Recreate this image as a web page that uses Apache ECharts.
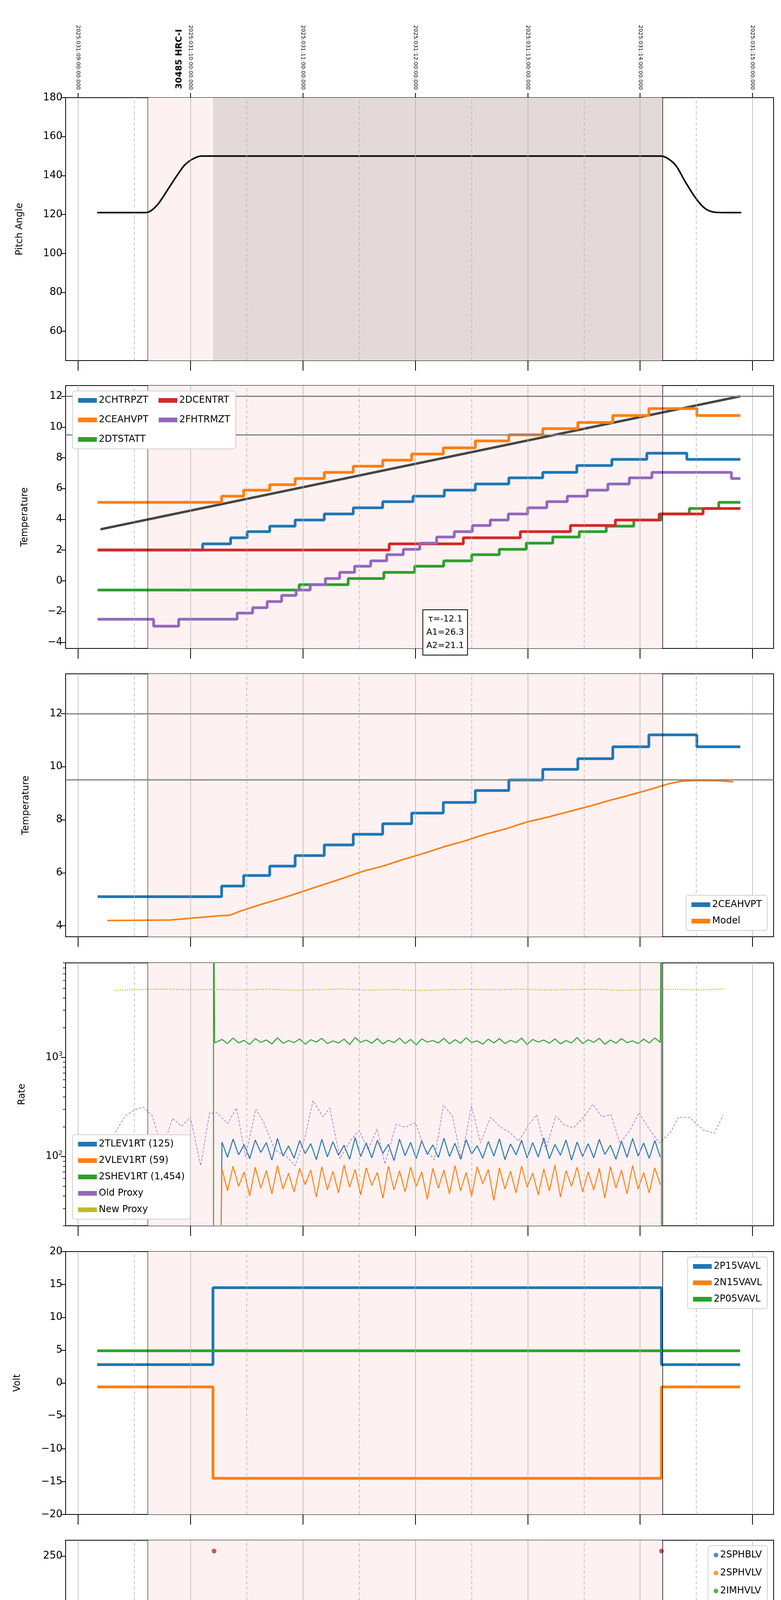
<!DOCTYPE html>
<html>
<head>
    <meta charset="UTF-8">
    <style type="text/css">
        body { margin: 0; padding: 0; background: #fff; }
        #chart { width: 2000px; height: 6200px; }
    </style>
</head>
<body>
    <div id="chart"></div>
    <script src="https://cdn.jsdelivr.net/npm/echarts@6/dist/echarts.min.js"></script>
    <script>
        // ---- time axis (hours of 2025-01-31) ----
        let X_MIN = 3.889, X_MAX = 10.1875;
        let HOURS = [4, 5, 6, 7, 8, 9, 10];
        let HALVES = [4.5, 5.5, 6.5, 7.5, 8.5, 9.5];
        let SHADE = [4.62, 9.195];
        let DARK = [5.2, 9.195];

        // ---- y tick labels per panel ----
        let Y_TICKS = [
            [60, 80, 100, 120, 140, 160, 180],
            [-4, -2, 0, 2, 4, 6, 8, 10, 12],
            [4, 6, 8, 10, 12],
            [100, 1000],
            [-20, -15, -10, -5, 0, 5, 10, 15, 20],
            [0, 50, 100, 150, 200, 250],
            [2.5, 5.0, 7.5, 10.0, 12.5, 15.0, 17.5],
            [-2, 0, 2, 4, 6, 8]
        ];
        let Y_RANGE = [[45, 180], [-4.4, 12.7], [3.59, 13.5], [20, 9000], [-20, 20], [0, 266], [0.72, 19.95], [-3.25, 8.22]];
        let Y_NAMES = ['Pitch Angle', 'Temperature', 'Temperature', 'Rate', 'Volt', 'HV Monitor', 'Detector Temp', 'FEA Temp'];
        let RATE_MINOR = [20, 30, 40, 50, 60, 70, 80, 90, 200, 300, 400, 500, 600, 700, 800, 900, 2000, 3000, 4000, 5000, 6000, 7000, 8000, 9000];

        // ---- panel 1: pitch ----
        let PITCH = [[4.17, 121], [4.6, 121], [4.65, 122], [4.72, 126], [4.8, 133], [4.88, 140], [4.95, 145.5], [5.03, 148.8], [5.1, 150],
            [9.18, 150], [9.24, 149], [9.32, 145], [9.4, 137], [9.5, 128], [9.58, 123], [9.66, 121.2], [9.74, 121], [9.9, 121]];

        // ---- panel 2/3: temperatures (value holds from time until next point) ----
        let CHTRPZT = [[4.174, 2.0], [5.108, 2.4], [5.357, 2.8], [5.504, 3.2], [5.705, 3.55], [5.931, 3.95], [6.19, 4.35], [6.448, 4.75], [6.71, 5.15],
            [6.98, 5.5], [7.258, 5.9], [7.534, 6.3], [7.832, 6.7], [8.134, 7.05], [8.437, 7.5], [8.749, 7.9], [9.06, 8.3], [9.416, 7.9], [9.892, 7.9]];
        let CEAHVPT = [[4.174, 5.1], [5.277, 5.5], [5.473, 5.9], [5.705, 6.25], [5.931, 6.65], [6.19, 7.05], [6.448, 7.45], [6.71, 7.85], [6.968, 8.25],
            [7.249, 8.65], [7.534, 9.1], [7.832, 9.5], [8.134, 9.9], [8.446, 10.3], [8.757, 10.75], [9.078, 11.2], [9.505, 10.75], [9.892, 10.75]];
        let DTSTATT = [[4.174, -0.6], [5.967, -0.25], [6.403, 0.15], [6.72, 0.55], [6.995, 0.95], [7.253, 1.3], [7.502, 1.7], [7.747, 2.05], [7.987, 2.45],
            [8.223, 2.85], [8.459, 3.2], [8.699, 3.55], [8.944, 3.95], [9.189, 4.35], [9.438, 4.7], [9.70, 5.1], [9.892, 5.1]];
        let DCENTRT = [[4.174, 2.0], [6.768, 2.4], [7.427, 2.8], [7.934, 3.2], [8.38, 3.6], [8.78, 3.95], [9.17, 4.35], [9.56, 4.7], [9.892, 4.7]];
        let FHTRMZT = [[4.174, -2.5], [4.672, -2.95], [4.895, -2.5], [5.415, -2.1], [5.553, -1.75], [5.682, -1.35], [5.811, -0.95], [5.94, -0.6],
            [6.065, -0.25], [6.2, 0.15], [6.327, 0.55], [6.46, 0.95], [6.603, 1.3], [6.746, 1.7], [6.893, 2.05], [7.04, 2.45], [7.19, 2.85], [7.347, 3.2],
            [7.507, 3.6], [7.667, 3.95], [7.827, 4.35], [8.0, 4.75], [8.17, 5.15], [8.352, 5.5], [8.53, 5.9], [8.713, 6.3], [8.904, 6.7], [9.105, 7.05],
            [9.812, 6.65], [9.892, 6.65]];
        let TREND = [[4.2, 3.35], [9.89, 12.0]];
        let LIMITS = [12, 9.5];
        let MODEL = [[4.26, 4.2], [4.82, 4.22], [5.26, 4.38], [5.35, 4.4], [5.44, 4.55], [5.62, 4.8], [5.82, 5.05], [6.0, 5.3], [6.18, 5.55], [6.36, 5.8],
            [6.53, 6.05], [6.71, 6.25], [6.89, 6.5], [7.09, 6.75], [7.27, 7.0], [7.44, 7.2], [7.62, 7.45], [7.8, 7.65], [7.98, 7.9], [8.18, 8.1],
            [8.36, 8.3], [8.54, 8.5], [8.72, 8.72], [8.9, 8.92], [9.07, 9.12], [9.25, 9.35], [9.36, 9.45], [9.51, 9.48], [9.71, 9.47], [9.83, 9.43]];

        // ---- panel 4: rates (samples between RATE_T0 and RATE_T1) ----
        let RATE_T0 = 5.28, RATE_T1 = 9.18;
        let TLEV1RT = [140, 98, 150, 104, 132, 95, 147, 110, 138, 92, 152, 101, 128, 96, 145, 107, 135, 93, 149, 99,
            141, 103, 130, 94, 155, 100, 137, 97, 146, 108, 133, 91, 150, 102, 139, 95, 144, 105, 131, 98,
            153, 100, 136, 94, 148, 106, 129, 96, 142, 101, 151, 93, 134, 104, 146, 97, 138, 99, 154, 95,
            132, 103, 147, 92, 140, 100, 135, 97, 149, 105, 130, 94, 143, 98, 152, 101, 137, 96, 145, 99];
        let VLEV1RT = [75, 45, 80, 50, 70, 40, 78, 48, 72, 42, 81, 47, 68, 44, 76, 52, 73, 39, 79, 46,
            71, 43, 82, 49, 74, 41, 77, 51, 69, 38, 80, 46, 72, 44, 78, 50, 70, 37, 76, 48,
            73, 42, 81, 45, 69, 40, 79, 53, 74, 36, 77, 47, 71, 43, 80, 49, 68, 41, 75, 45,
            82, 39, 72, 50, 78, 44, 70, 46, 76, 38, 79, 48, 73, 42, 81, 47, 69, 43, 77, 52];
        let SHEV1RT = [1520, 1380, 1570, 1400, 1490, 1350, 1550, 1420, 1500, 1370, 1580, 1390, 1480, 1410, 1540, 1360, 1510, 1430, 1560, 1380,
            1470, 1400, 1530, 1350, 1590, 1420, 1500, 1390, 1550, 1370, 1490, 1410, 1570, 1380, 1520, 1340, 1540, 1430, 1480, 1400,
            1560, 1370, 1510, 1390, 1580, 1420, 1470, 1360, 1530, 1400, 1550, 1380, 1490, 1410, 1570, 1350, 1520, 1430, 1500, 1390,
            1540, 1370, 1480, 1400, 1590, 1380, 1510, 1420, 1560, 1360, 1500, 1390, 1550, 1410, 1470, 1380, 1530, 1400, 1570, 1420];
        let OLD_PROXY = [[4.33, 175], [4.42, 257], [4.51, 298], [4.58, 316], [4.66, 257], [4.75, 117], [4.84, 243], [4.92, 202], [5.0, 248], [5.09, 81],
            [5.17, 275], [5.24, 275], [5.33, 215], [5.41, 309], [5.49, 99], [5.58, 301], [5.65, 224], [5.75, 117], [5.86, 99], [5.93, 81],
            [6.01, 143], [6.09, 366], [6.18, 251], [6.24, 309], [6.33, 95], [6.42, 143], [6.5, 183], [6.58, 117], [6.66, 190], [6.73, 84],
            [6.83, 211], [6.91, 198], [7.0, 219], [7.09, 117], [7.17, 93], [7.25, 331], [7.33, 257], [7.41, 93], [7.5, 324], [7.58, 137],
            [7.67, 248], [7.76, 198], [7.84, 175], [7.92, 143], [8.01, 211], [8.08, 263], [8.16, 117], [8.25, 257], [8.33, 207], [8.41, 196],
            [8.5, 251], [8.58, 337], [8.66, 251], [8.74, 265], [8.82, 137], [8.91, 183], [8.99, 277], [9.08, 190], [9.17, 137], [9.27, 175],
            [9.34, 249], [9.44, 248], [9.57, 183], [9.66, 172], [9.74, 263]];
        let NEW_PROXY_T = [4.33, 4.56, 4.78, 5.01, 5.23, 5.46, 5.68, 5.91, 6.13, 6.36, 6.58, 6.81, 7.03, 7.26, 7.48, 7.71, 7.93, 8.16, 8.38, 8.61, 8.83, 9.06, 9.28, 9.51, 9.74];
        let NEW_PROXY = [4750, 4850, 4900, 4820, 4860, 4800, 4880, 4760, 4830, 4900, 4780, 4850, 4740, 4820, 4870, 4810, 4890, 4790, 4840, 4880, 4760, 4830, 4870, 4800, 4900];

        // ---- panel 5: volts ----
        let P15VAVL = [[4.17, 2.8], [5.2, 14.5], [9.19, 2.8], [9.89, 2.8]];
        let N15VAVL = [[4.17, -0.6], [5.2, -14.5], [9.19, -0.6], [9.89, -0.6]];
        let P05VAVL = [[4.17, 4.9], [9.89, 4.9]];

        // ---- panel 6: HV monitor ----
        let IMHBLV_PTS = [[5.21, 255], [5.215, 127], [5.217, 125], [5.22, 119], [5.225, 106], [5.228, 104], [5.235, 101], [5.24, 97], [5.25, 93],
            [5.26, 89], [5.27, 87], [6.45, 79], [6.55, 79], [6.58, 79], [6.62, 79], [9.19, 255]];
        let IMHBLV_FLAT = [[5.27, 85], [9.19, 85]];
        let IMHVLV_PTS = [[5.22, 99], [5.23, 95], [5.24, 90], [5.25, 86], [5.26, 82], [6.45, 127], [6.59, 127], [6.63, 127]];
        let IMHVLV_FLAT = [[5.27, 79], [9.19, 79]];

        // ---- panel 7: detector temps ----
        let SPINATM = [[5.2, -5], [5.2, 2.7], [5.89, 3.1], [6.41, 0], [6.43, 3.1], [6.47, 0], [6.52, 3.1], [6.53, 0], [6.64, 3.6], [6.88, 0], [6.89, 3.6],
            [6.95, 0], [6.96, 3.6], [7.04, 0], [7.09, 3.6], [7.26, 4.15], [7.85, 4.65], [8.39, 5.15], [8.94, 5.65], [9.19, 5.65]];
        let SPHVATM = [[5.2, -5], [5.2, 13.3], [5.62, 13.6], [6.0, 13.95], [6.27, 14.3], [6.41, 8.7], [6.43, 14.3], [6.45, 8.7], [6.47, 14.6], [6.5, 9.0],
            [6.52, 14.6], [6.54, 8.9], [6.56, 14.6], [6.58, 9.0], [6.6, 14.6], [6.62, 8.9], [6.64, 14.6], [6.75, 14.95], [6.88, 9.3], [6.9, 14.95],
            [6.93, 9.6], [6.95, 14.95], [7.02, 15.3], [7.04, 9.6], [7.08, 15.3], [7.24, 15.65], [7.5, 16.0], [7.76, 16.35], [8.01, 16.7], [8.26, 17.05],
            [8.51, 17.4], [8.77, 17.75], [9.05, 18.1], [9.19, 18.1]];
        let IMINATM = [[5.2, -5], [5.2, 2.2], [6.4, 2.65], [6.41, 3.2], [6.44, 0], [6.47, 3.2], [6.48, 2.65], [6.52, 3.2], [6.64, 2.65], [6.88, 3.6],
            [6.89, 2.65], [6.95, 3.6], [6.97, 2.65], [7.04, 3.6], [7.09, 2.65], [7.31, 3.15], [8.07, 3.6], [8.7, 4.15], [9.19, 4.15]];
        let IMHVATM = [[5.2, -5], [5.2, 12.6], [5.33, 12.95], [5.45, 13.25], [5.54, 13.6], [5.65, 13.95], [5.77, 14.3], [5.9, 14.65], [6.03, 15.0],
            [6.2, 15.3], [6.35, 15.65], [6.41, 14.3], [6.43, 15.7], [6.45, 14.4], [6.47, 8.6], [6.48, 15.8], [6.5, 14.5], [6.52, 16.0], [6.54, 14.4],
            [6.56, 16.0], [6.58, 14.6], [6.6, 16.0], [6.62, 14.5], [6.64, 16.0], [6.71, 16.35], [6.88, 15.0], [6.9, 16.7], [6.95, 15.0], [6.97, 16.7],
            [7.03, 15.3], [7.06, 16.7], [7.08, 15.3], [7.1, 17.0], [7.33, 17.4], [7.56, 17.75], [7.79, 18.1], [8.03, 18.45], [8.29, 18.8], [8.55, 19.1],
            [8.82, 19.4], [9.08, 19.8], [9.19, 19.8], [9.19, 25], [9.195, -5]];

        // ---- panel 8: FEA temps ----
        let FRADPYT = [[4.17, -3.7], [5.54, -3.3], [5.68, -2.9], [5.81, -2.5], [5.95, -2.1], [6.09, -1.75], [6.23, -1.35], [6.37, -0.95], [6.51, -0.6],
            [6.66, -0.2], [6.82, 0.15], [6.98, 0.5], [7.13, 0.9], [7.3, 1.3], [7.47, 1.7], [7.63, 2.05], [7.82, 2.45], [7.99, 2.8], [8.18, 3.2],
            [8.37, 3.55], [8.57, 3.95], [8.77, 4.35], [8.96, 4.7], [9.17, 5.1], [9.73, 4.7], [9.83, 4.3], [9.89, 4.3]];
        let FEPRATM = [[5.2, -5], [5.2, -3.15], [5.23, -2.7], [5.28, -2.25], [5.33, -1.85], [5.39, -1.4], [5.47, -0.95], [5.56, -0.5], [5.66, -0.05],
            [5.78, 0.35], [5.92, 0.8], [6.05, 1.25], [6.2, 1.7], [6.35, 2.2], [6.41, -5], [6.43, 2.2], [6.47, -5], [6.52, 2.7], [6.53, -5], [6.55, 2.7],
            [6.67, 3.15], [6.84, 3.6], [6.91, -5], [6.93, 3.6], [6.97, -5], [6.99, 3.6], [7.02, 4.1], [7.04, -5], [7.06, 4.1], [7.21, 4.6], [7.39, 5.1],
            [7.6, 5.65], [7.8, 6.2], [8.0, 6.7], [8.22, 7.25], [8.46, 7.8], [8.7, 8.3], [9.19, 8.5]];
        let FE00ATM = [[5.2, -5], [5.2, -3.3], [5.33, -2.95], [5.43, -2.6], [5.52, -2.25], [5.62, -1.95], [5.71, -1.6], [5.79, -1.3], [5.87, -0.95],
            [5.96, -0.65], [6.07, -0.3], [6.18, 0], [6.28, 0.35], [6.38, 0.6], [6.41, 6.15], [6.43, 0.6], [6.45, 6.15], [6.47, 0.8], [6.49, 6.15],
            [6.51, 1.0], [6.53, 6.15], [6.55, 0.9], [6.57, 6.15], [6.59, 1.1], [6.61, 6.15], [6.63, 1.3], [6.7, 1.65], [6.82, 2.0], [6.88, 6.15],
            [6.9, 2.3], [6.92, 6.15], [6.95, 2.3], [7.03, 6.15], [7.06, 2.3], [7.09, 2.6], [7.17, 2.95], [7.3, 3.3], [7.41, 3.6], [7.53, 3.95],
            [7.67, 4.25], [7.8, 4.55], [7.94, 4.85], [8.07, 5.2], [8.2, 5.5], [8.34, 5.85], [8.48, 6.15], [8.63, 6.45], [8.78, 6.8], [8.92, 7.1],
            [9.08, 7.45], [9.19, 7.45], [9.19, 20], [9.195, -10]];

        let C = { blue: '#1f77b4', orange: '#ff7f0e', green: '#2ca02c', red: '#d62728', purple: '#9467bd', olive: '#bcbd22' };
        let FONT = 'DejaVu Sans';
        let TOPS = [250, 987, 1725, 2465, 3204, 3943, 4682, 5420];
        let H = 673;

        function pad2(n) { return (n < 10 ? '0' : '') + n; }
        function rateSeries(vals) {
            return vals.map((v, i) => [RATE_T0 + i * (RATE_T1 - RATE_T0) / (vals.length - 1), v]);
        }

        var myChart = echarts.init(document.getElementById('chart'));

        let grids = [], xAxes = [], yAxes = [], series = [], legends = [];
        TOPS.forEach((t, i) => {
            grids.push({ left: 168, right: 19, top: t, height: H, show: true, borderColor: '#000', borderWidth: 2, backgroundColor: 'transparent' });
            let last = i === TOPS.length - 1;
            xAxes.push({
                type: 'value', gridIndex: i, min: X_MIN, max: X_MAX,
                axisLine: { show: true, onZero: false, lineStyle: { color: '#000', width: 2 } },
                axisTick: { show: true, customValues: HOURS, length: 26, lineStyle: { color: '#000', width: 2 } },
                axisLabel: { show: last, customValues: HOURS, margin: 40, fontSize: 26, fontFamily: FONT, color: '#000', formatter: v => pad2(Math.round(v)) + 'h' },
                splitLine: { show: false },
                name: last ? '2025-01-31 (031)' : '', nameLocation: 'middle', nameGap: 82,
                nameTextStyle: { fontSize: 30, fontFamily: FONT, color: '#000' }
            });
            let r = Y_RANGE[i];
            let ticks = Y_TICKS[i];
            yAxes.push({
                type: i === 3 ? 'log' : 'value', logBase: 10, gridIndex: i, min: r[0], max: r[1],
                axisLine: { show: true, onZero: false, lineStyle: { color: '#000', width: 2 } },
                axisTick: { show: true, customValues: ticks, length: 12, lineStyle: { color: '#000', width: 2 } },
                axisLabel: {
                    customValues: ticks, fontSize: 26, fontFamily: FONT, color: '#000', margin: 8,
                    formatter: function (v) {
                        if (i === 3) return '{b|10}{s|' + Math.round(Math.log10(v)) + '}';
                        let s = i === 6 ? v.toFixed(1) : String(Math.round(v));
                        return s.replace('-', '\u2212');
                    },
                    rich: { b: { fontSize: 26, fontFamily: FONT }, s: { fontSize: 16, fontFamily: FONT, padding: [0, 0, 16, 0] } }
                },
                splitLine: { show: false },
                name: Y_NAMES[i], nameLocation: 'middle',
                nameGap: [105, 92, 89, 99, 111, 105, 114, 98][i],
                nameTextStyle: { fontSize: 24, fontFamily: FONT, color: '#000' }
            });
            // background: shading, grid lines, block edges
            let lines = [];
            HOURS.forEach(h => lines.push({ xAxis: h, lineStyle: { color: '#b0b0b0', width: 1.5, type: 'solid' } }));
            HALVES.forEach(h => lines.push({ xAxis: h, lineStyle: { color: '#b0b0b0', width: 1.5, type: [8, 6] } }));
            lines.push({ xAxis: SHADE[0], lineStyle: { color: '#000', width: 1, type: 'solid' } });
            lines.push({ xAxis: SHADE[1], lineStyle: { color: '#000', width: 1.5, type: 'solid' } });
            if (i === 1 || i === 2) LIMITS.forEach(l => lines.push({ yAxis: l, lineStyle: { color: '#808080', width: 3, type: 'solid' } }));
            let areas = [[{ xAxis: SHADE[0], itemStyle: { color: '#fdf1f1' } }, { xAxis: SHADE[1] }]];
            if (i === 0) areas.push([{ xAxis: DARK[0], itemStyle: { color: '#e4d9d9' } }, { xAxis: DARK[1] }]);
            series.push({
                type: 'line', name: '_bg' + i, xAxisIndex: i, yAxisIndex: i, data: [], silent: true, z: 1,
                markArea: { silent: true, data: areas },
                markLine: { silent: true, symbol: 'none', label: { show: false }, data: lines }
            });
        });

        // extra axes: top time labels (panel 1), half-hour labels, log minor ticks
        xAxes.push({
            type: 'value', gridIndex: 0, position: 'top', min: X_MIN, max: X_MAX,
            axisLine: { show: false },
            axisTick: { show: true, customValues: HOURS, length: 12, lineStyle: { color: '#000', width: 2 } },
            axisLabel: { customValues: HOURS, rotate: 90, margin: 20, fontSize: 14, fontFamily: FONT, color: '#000', formatter: v => '2025:031:' + pad2(Math.round(v) + 5) + ':00:00.000' },
            splitLine: { show: false }
        });
        xAxes.push({
            type: 'value', gridIndex: 7, position: 'bottom', offset: 0, min: X_MIN, max: X_MAX,
            axisLine: { show: false },
            axisTick: { show: true, customValues: HALVES, length: 10, lineStyle: { color: '#000', width: 1.5 } },
            axisLabel: { customValues: HALVES, margin: 10, fontSize: 15, fontFamily: FONT, color: '#000', formatter: () => '30' },
            splitLine: { show: false }
        });
        yAxes.push({
            type: 'log', logBase: 10, gridIndex: 3, position: 'left', offset: 0, min: Y_RANGE[3][0], max: Y_RANGE[3][1],
            axisLine: { show: false },
            axisTick: { show: true, customValues: RATE_MINOR, length: 7, lineStyle: { color: '#000', width: 1.5 } },
            axisLabel: { show: false }, splitLine: { show: false }
        });

        function line(name, gi, data, color, width, extra) {
            return Object.assign({
                type: 'line', name: name, xAxisIndex: gi, yAxisIndex: gi, data: data, showSymbol: false, symbol: 'none',
                lineStyle: { color: color, width: width }, itemStyle: { color: color }, z: 3, animation: false
            }, extra || {});
        }
        let STEP = { step: 'end' };

        // panel 1
        series.push(line('Pitch', 0, PITCH, '#000', 4, { smooth: 0.3 }));
        // panel 2
        series.push(line('trend', 1, TREND, '#444', 6, { z: 2 }));
        series.push(line('2CHTRPZT', 1, CHTRPZT, C.blue, 7, STEP));
        series.push(line('2CEAHVPT', 1, CEAHVPT, C.orange, 7, STEP));
        series.push(line('2DTSTATT', 1, DTSTATT, C.green, 7, STEP));
        series.push(line('2DCENTRT', 1, DCENTRT, C.red, 7, STEP));
        series.push(line('2FHTRMZT', 1, FHTRMZT, C.purple, 7, STEP));
        // panel 3
        series.push(line('2CEAHVPT ', 2, CEAHVPT, C.blue, 7, STEP));
        series.push(line('Model', 2, MODEL, C.orange, 4));
        // panel 4
        let tl = rateSeries(TLEV1RT), vl = rateSeries(VLEV1RT), sh = rateSeries(SHEV1RT);
        tl.unshift([5.27, 10]); vl.unshift([5.27, 10]);
        sh.unshift([5.205, 10], [5.205, 99999], [5.215, 1400]);
        sh.push([9.19, 99999], [9.19, 10]);
        series.push(line('2TLEV1RT (125)', 3, tl, C.blue, 2.5));
        series.push(line('2VLEV1RT (59)', 3, vl, C.orange, 2.5));
        series.push(line('2SHEV1RT (1,454)', 3, sh, C.green, 2.5));
        series.push(line('Old Proxy', 3, OLD_PROXY, C.purple, 1.5, { lineStyle: { color: C.purple, width: 1.5, type: [6, 4] } }));
        series.push(line('New Proxy', 3, NEW_PROXY_T.map((t, k) => [t, NEW_PROXY[k]]), C.olive, 2, { lineStyle: { color: C.olive, width: 2.5, type: [3, 3] } }));
        // panel 5
        series.push(line('2P15VAVL', 4, P15VAVL, C.blue, 7, STEP));
        series.push(line('2N15VAVL', 4, N15VAVL, C.orange, 7, STEP));
        series.push(line('2P05VAVL', 4, P05VAVL, C.green, 7));
        // panel 6
        function dots(name, gi, data, color) {
            return { type: 'scatter', name: name, xAxisIndex: gi, yAxisIndex: gi, data: data, symbolSize: 12, itemStyle: { color: color }, z: 3, animation: false };
        }
        series.push(dots('2SPHBLV', 5, [], C.blue));
        series.push(dots('2SPHVLV', 5, [], C.orange));
        series.push(dots('2IMHVLV', 5, IMHVLV_PTS, C.green));
        series.push(line('2IMHVLV', 5, IMHVLV_FLAT, C.green, 13, { lineStyle: { color: C.green, width: 13, cap: 'round' } }));
        series.push(dots('2IMHBLV', 5, IMHBLV_PTS, C.red));
        series.push(line('2IMHBLV', 5, IMHBLV_FLAT, C.red, 13, { lineStyle: { color: C.red, width: 13, cap: 'round' } }));
        // panel 7
        series.push(line('2SPINATM', 6, SPINATM, C.blue, 7, STEP));
        series.push(line('2SPHVATM', 6, SPHVATM, C.orange, 7, STEP));
        series.push(line('2IMINATM', 6, IMINATM, C.green, 7, STEP));
        series.push(line('2IMHVATM', 6, IMHVATM, C.red, 7, STEP));
        // panel 8
        series.push(line('2FHTRMZT ', 7, FHTRMZT, C.blue, 7, STEP));
        series.push(line('2FRADPYT', 7, FRADPYT, C.orange, 7, STEP));
        series.push(line('2FEPRATM', 7, FEPRATM, C.green, 7, STEP));
        series.push(line('2FE00ATM', 7, FE00ATM, C.red, 7, STEP));

        function legend(data, pos, extra) {
            return Object.assign({
                data: data, orient: 'vertical', backgroundColor: '#fff', borderColor: '#d0d0d0', borderWidth: 2, borderRadius: 6,
                padding: [12, 14], itemGap: 18, itemWidth: 48, itemHeight: 12, icon: 'rect', z: 20,
                textStyle: { fontSize: 24, fontFamily: FONT, color: '#000' }
            }, pos, extra || {});
        }
        legends.push(legend(['2CHTRPZT', '2DCENTRT', '2CEAHVPT', '2FHTRMZT', '2DTSTATT'], { left: 186, top: 1001 },
            { orient: 'horizontal', width: 500, itemGap: 26, textStyle: { fontSize: 24, fontFamily: FONT, color: '#000', width: 150 } }));
        legends.push(legend(['2CEAHVPT ', 'Model'], { right: 35, top: 2292 }, { formatter: n => n.trim() }));
        legends.push(legend(['2TLEV1RT (125)', '2VLEV1RT (59)', '2SHEV1RT (1,454)', 'Old Proxy', 'New Proxy'], { left: 186, top: 2905 }));
        legends.push(legend(['2P15VAVL', '2N15VAVL', '2P05VAVL'], { right: 35, top: 3218 }));
        legends.push(legend(['2SPHBLV', '2SPHVLV', '2IMHVLV', '2IMHBLV'], { right: 35, top: 3957 }, { icon: 'circle', itemWidth: 12, itemHeight: 12, itemGap: 22 }));
        legends.push(legend(['2SPINATM', '2SPHVATM', '2IMINATM', '2IMHVATM'], { right: 35, top: 4695 }));
        legends.push(legend(['2FHTRMZT ', '2FRADPYT', '2FEPRATM', '2FE00ATM'], { right: 35, top: 5904 }, { formatter: n => n.trim() }));

        let option = {
            animation: false,
            backgroundColor: '#fff',
            grid: grids, xAxis: xAxes, yAxis: yAxes, series: series, legend: legends,
            graphic: [
                {
                    id: 'fit', type: 'text', x: 1140, y: 1562,
                    style: {
                        text: '\u03c4=-12.1\nA1=26.3\nA2=21.1', fontSize: 22, fontFamily: FONT, fill: '#000', align: 'center', verticalAlign: 'top',
                        lineHeight: 34, backgroundColor: '#fff', borderColor: '#000', borderWidth: 2, padding: [6, 8]
                    }, z: 100
                }
            ]
        };
        myChart.setOption(option);

        // obsid label above the pitch panel, placed at its time
        let ox = myChart.convertToPixel({ xAxisIndex: 0 }, 4.9);
        myChart.setOption({
            graphic: [{
                id: 'obsid', type: 'text', x: ox, y: 228, rotation: Math.PI / 2, z: 100,
                style: { text: '30485 HRC-I', fontSize: 22, fontWeight: 'bold', fontFamily: FONT, fill: '#000', align: 'left', verticalAlign: 'middle' }
            }]
        });
    </script>
</body>
</html>
